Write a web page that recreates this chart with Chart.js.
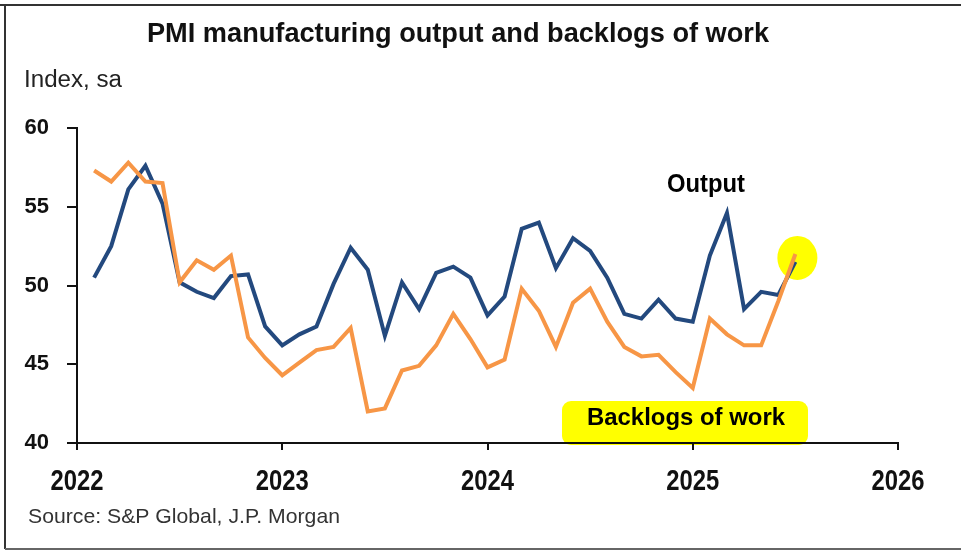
<!DOCTYPE html>
<html lang="en">
<head>
  <meta charset="UTF-8" />
  <title>PMI manufacturing output and backlogs of work</title>
  <script src="https://cdn.jsdelivr.net/npm/chart.js"></script>
  <style>
    body { margin: 0; background: #fff; }
    canvas { display: block; }
  </style>
</head>
<body>
  <canvas id="pmiChart" width="961" height="553"></canvas>

  <script>
    // monthly readings, Jan 2022 - Jun 2025 (plotted at month end)
    const months = [
      '2022-01','2022-02','2022-03','2022-04','2022-05','2022-06','2022-07','2022-08','2022-09','2022-10','2022-11','2022-12',
      '2023-01','2023-02','2023-03','2023-04','2023-05','2023-06','2023-07','2023-08','2023-09','2023-10','2023-11','2023-12',
      '2024-01','2024-02','2024-03','2024-04','2024-05','2024-06','2024-07','2024-08','2024-09','2024-10','2024-11','2024-12',
      '2025-01','2025-02','2025-03','2025-04','2025-05','2025-06'
    ];
    const output = [
      50.5, 52.5, 56.1, 57.6, 55.2, 50.2, 49.6, 49.2, 50.6, 50.7, 47.4, 46.2,
      46.9, 47.4, 50.1, 52.4, 51.0, 46.8, 50.2, 48.5, 50.8, 51.2, 50.5, 48.1,
      49.3, 53.6, 54.0, 51.1, 53.0, 52.2, 50.5, 48.2, 47.9, 49.1, 47.9, 47.7,
      51.9, 54.6, 48.5, 49.6, 49.4, 51.5
    ];
    const backlogs = [
      57.3, 56.6, 57.8, 56.6, 56.5, 50.2, 51.6, 51.0, 51.9, 46.7, 45.4, 44.3,
      45.1, 45.9, 46.1, 47.3, 42.0, 42.2, 44.6, 44.9, 46.2, 48.2, 46.6, 44.8,
      45.3, 49.8, 48.4, 46.1, 48.9, 49.8, 47.7, 46.1, 45.5, 45.6, 44.5, 43.5,
      47.9, 46.9, 46.2, 46.2, 49.0, 52.0
    ];
    const yearTicks = [2022, 2023, 2024, 2025, 2026];

    // months since Jan 2022, at month end
    const monthPos = months.map(m => {
      const [yr, mo] = m.split('-').map(Number);
      return (yr - 2022) * 12 + mo;
    });
    const toPoints = vals => vals.map((v, i) => ({ x: monthPos[i], y: v }));

    const FONT = "'Liberation Sans', Arial, sans-serif";

    // draw text squeezed to a given width (the source uses a condensed face)
    function fitText(ctx, text, left, baseline, font, width, color) {
      ctx.save();
      ctx.font = font;
      const w = ctx.measureText(text).width;
      ctx.translate(left, baseline);
      ctx.scale(width / w, 1);
      ctx.fillStyle = color || '#000';
      ctx.textAlign = 'left';
      ctx.textBaseline = 'alphabetic';
      ctx.fillText(text, 0, 0);
      ctx.restore();
    }

    function roundRect(ctx, x, y, w, h, r) {
      ctx.beginPath();
      ctx.moveTo(x + r, y);
      ctx.arcTo(x + w, y, x + w, y + h, r);
      ctx.arcTo(x + w, y + h, x, y + h, r);
      ctx.arcTo(x, y + h, x, y, r);
      ctx.arcTo(x, y, x + w, y, r);
      ctx.closePath();
    }

    const decor = {
      id: 'decor',
      beforeDraw(chart) {
        const { ctx, scales: { x, y } } = chart;
        ctx.save();
        ctx.fillStyle = '#fff';
        ctx.fillRect(0, 0, chart.width, chart.height);

        // highlighter marks
        ctx.fillStyle = '#ffff00';
        roundRect(ctx, 562, 401, 246, 44, 9);
        ctx.fill();
        const last = monthPos.length - 1;
        const cx = x.getPixelForValue(monthPos[last]) + 2;
        const cy = y.getPixelForValue((output[last] + backlogs[last]) / 2);
        ctx.beginPath();
        ctx.ellipse(cx, cy, 20, 22, 0, 0, Math.PI * 2);
        ctx.fill();
        ctx.restore();
      },
      afterDraw(chart) {
        const { ctx, scales: { x } } = chart;

        // year labels under the x axis, condensed like the source
        x.ticks.forEach(t => {
          const label = String(2022 + t.value / 12);
          const px = x.getPixelForValue(t.value);
          fitText(ctx, label, px - 26.5, 490, 'bold 30px ' + FONT, 53, '#111');
        });

        fitText(ctx, 'PMI manufacturing output and backlogs of work', 147, 42, 'bold 27px ' + FONT, 622, '#111');
        fitText(ctx, 'Index, sa', 24, 87, '23px ' + FONT, 98, '#222');
        fitText(ctx, 'Output', 667, 192, 'bold 25px ' + FONT, 78, '#000');
        fitText(ctx, 'Backlogs of work', 587, 425, 'bold 24px ' + FONT, 198, '#000');
        fitText(ctx, 'Source: S&P Global, J.P. Morgan', 28, 523, '21px ' + FONT, 312, '#333');

        // outer frame
        ctx.save();
        ctx.strokeStyle = '#333';
        ctx.lineWidth = 2;
        ctx.beginPath();
        ctx.moveTo(0, 5); ctx.lineTo(961, 5);
        ctx.moveTo(5, 5); ctx.lineTo(5, 549);
        ctx.stroke();
        ctx.strokeStyle = '#666';
        ctx.beginPath();
        ctx.moveTo(5, 549); ctx.lineTo(961, 549);
        ctx.stroke();
        ctx.restore();
      }
    };

    const ctx = document.getElementById('pmiChart').getContext('2d');
    new Chart(ctx, {
      type: 'line',
      data: {
        datasets: [
          {
            label: 'Backlogs of work',
            data: toPoints(backlogs),
            borderColor: '#f79646',
            borderWidth: 4,
            pointRadius: 0,
            tension: 0,
            fill: false
          },
          {
            label: 'Output',
            data: toPoints(output),
            borderColor: '#23497e',
            borderWidth: 4,
            pointRadius: 0,
            tension: 0,
            fill: false
          }
        ]
      },
      options: {
        responsive: false,
        devicePixelRatio: 1,
        animation: false,
        layout: { padding: { top: 128, right: 63, left: 0, bottom: 0 } },
        plugins: {
          legend: { display: false },
          tooltip: { enabled: false }
        },
        scales: {
          x: {
            type: 'linear',
            min: 0,
            max: 48,
            afterFit: s => { s.height = 110; },
            afterBuildTicks: s => { s.ticks = yearTicks.map(yr => ({ value: (yr - 2022) * 12 })); },
            ticks: { display: false },
            grid: { drawOnChartArea: false, drawTicks: true, tickLength: 7, color: '#111', lineWidth: 2 },
            border: { color: '#111', width: 2 }
          },
          y: {
            min: 40,
            max: 60,
            afterFit: s => { s.width = 77; },
            ticks: {
              stepSize: 5,
              color: '#111',
              font: { family: FONT, size: 22, weight: 'bold' },
              padding: 18
            },
            grid: { drawOnChartArea: false, drawTicks: true, tickLength: 10, color: '#111', lineWidth: 2 },
            border: { color: '#111', width: 2 }
          }
        }
      },
      plugins: [decor]
    });
  </script>
</body>
</html>
